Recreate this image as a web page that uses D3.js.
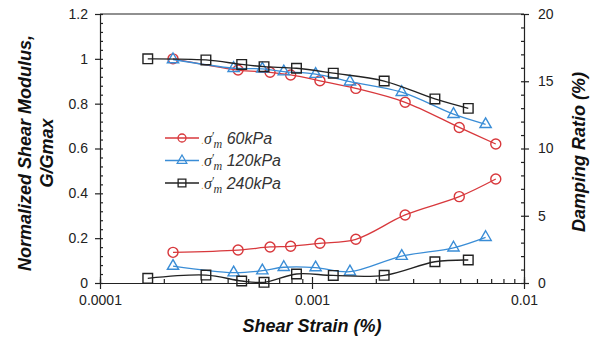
<!DOCTYPE html>
<html>
<head>
<meta charset="utf-8">
<script src="https://cdn.jsdelivr.net/npm/d3@7"></script>
<style>
  body { margin: 0; background: #fff; }
  text { font-family: "Liberation Sans", Arial, sans-serif; }
</style>
</head>
<body>
<script>
// data (strain in %)
var strain60 = [2.21e-4, 4.48e-4, 6.34e-4, 7.93e-4, 1.09e-3, 1.61e-3, 2.75e-3, 4.95e-3, 7.36e-3];
var g60 = [1.0, 0.95, 0.94, 0.928, 0.902, 0.868, 0.806, 0.694, 0.62];
var d60 = [2.28, 2.45, 2.68, 2.73, 2.95, 3.25, 5.06, 6.42, 7.73];

var strain120 = [2.21e-4, 4.27e-4, 5.83e-4, 7.36e-4, 1.04e-3, 1.51e-3, 2.65e-3, 4.65e-3, 6.59e-3];
var g120 = [0.997, 0.958, 0.955, 0.943, 0.932, 0.898, 0.851, 0.753, 0.708];
var d120 = [1.26, 0.77, 0.92, 1.17, 1.15, 0.84, 2.0, 2.62, 3.4];

var strain240 = [1.68e-4, 3.16e-4, 4.66e-4, 5.94e-4, 8.45e-4, 1.26e-3, 2.19e-3, 3.80e-3, 5.46e-3];
var g240 = [1.0, 0.995, 0.975, 0.965, 0.958, 0.936, 0.901, 0.821, 0.779];
var d240 = [0.35, 0.59, 0.15, 0.05, 0.67, 0.56, 0.57, 1.58, 1.71];

var seriesNames = ["60kPa", "120kPa", "240kPa"];
var xTicks = [1e-4, 1e-3, 1e-2];
var xTickLabels = ["0.0001", "0.001", "0.01"];
var gTicks = [0, 0.2, 0.4, 0.6, 0.8, 1, 1.2];
var dTicks = [0, 5, 10, 15, 20];

var width = 597, height = 342;
// plot box (note: "top" is reserved on window, so prefix names)
var plotL = 100, plotR = 524, plotT = 14, plotB = 283;

var svg = d3.select("body").append("svg")
    .attr("width", width)
    .attr("height", height);

var x = d3.scaleLog().domain([1e-4, 1e-2]).range([plotL, plotR]);
var yG = d3.scaleLinear().domain([0, 1.2]).range([plotB, plotT]);
var yD = d3.scaleLinear().domain([0, 20]).range([plotB, plotT]);

var axisColor = "#222", labelColor = "#222";

// minor ticks
var xMinor = [];
[1e-4, 1e-3].forEach(function(dec) {
  for (var k = 2; k <= 9; k++) xMinor.push(dec * k);
});
var gMinor = d3.range(0, 1.2001, 0.04);
var dMinor = d3.range(0, 20.001, 1);

function styleAxis(g) {
  g.selectAll("path, line").attr("stroke", axisColor).attr("stroke-width", 1.2);
  g.selectAll("text").attr("fill", labelColor).style("font-size", "14px")
    .style("font-family", "'Liberation Sans', Arial, sans-serif");
}

// left axis
svg.append("g").attr("transform", "translate(" + plotL + ",0)")
  .call(d3.axisLeft(yG).tickValues(gMinor).tickSize(-3).tickFormat(""))
  .call(styleAxis);
svg.append("g").attr("transform", "translate(" + plotL + ",0)")
  .call(d3.axisLeft(yG).tickValues(gTicks).tickSize(5).tickPadding(7).tickFormat(d3.format("")))
  .call(styleAxis)
  .call(function(g) { g.select(".domain").remove(); });

// right axis
svg.append("g").attr("transform", "translate(" + plotR + ",0)")
  .call(d3.axisRight(yD).tickValues(dMinor).tickSize(-3).tickFormat(""))
  .call(styleAxis);
svg.append("g").attr("transform", "translate(" + plotR + ",0)")
  .call(d3.axisRight(yD).tickValues(dTicks).tickSize(5).tickPadding(9).tickFormat(d3.format("")))
  .call(styleAxis)
  .call(function(g) { g.select(".domain").remove(); });

// bottom axis
svg.append("g").attr("transform", "translate(0," + plotB + ")")
  .call(d3.axisBottom(x).tickValues(xMinor).tickSize(-4).tickFormat(""))
  .call(styleAxis);
svg.append("g").attr("transform", "translate(0," + plotB + ")")
  .call(d3.axisBottom(x).tickValues(xTicks).tickSize(-6).tickFormat(""))
  .call(styleAxis)
  .call(function(g) { g.select(".domain").remove(); });
svg.append("g").attr("transform", "translate(0," + plotB + ")")
  .call(d3.axisBottom(x).tickValues(xTicks).tickSize(6).tickPadding(6)
    .tickFormat(function(d, i) { return xTickLabels[i]; }))
  .call(styleAxis)
  .call(function(g) { g.select(".domain").remove(); });

// top border
svg.append("line")
  .attr("x1", plotL).attr("x2", plotR).attr("y1", plotT).attr("y2", plotT)
  .attr("stroke", axisColor).attr("stroke-width", 1.2);

// series
var series = [
  { name: seriesNames[0], strain: strain60, g: g60, d: d60, color: "#d8383c", shape: "circle" },
  { name: seriesNames[1], strain: strain120, g: g120, d: d120, color: "#3a8dd6", shape: "triangle" },
  { name: seriesNames[2], strain: strain240, g: g240, d: d240, color: "#222222", shape: "square" }
];

var symbolFor = {
  circle: d3.symbol().type(d3.symbolCircle).size(Math.PI * 25),
  triangle: d3.symbol().type(d3.symbolTriangle).size(55),
  square: d3.symbol().type(d3.symbolSquare).size(92)
};

function drawCurve(s, vals, yScale) {
  var pts = s.strain.map(function(v, i) { return [x(v), yScale(vals[i])]; });
  var line = d3.line().curve(d3.curveCatmullRom.alpha(0.5));
  svg.append("path")
    .attr("d", line(pts))
    .attr("fill", "none")
    .attr("stroke", s.color)
    .attr("stroke-width", 1.3);
  svg.append("g").selectAll("path")
    .data(pts)
    .enter().append("path")
    .attr("transform", function(p) { return "translate(" + p[0] + "," + p[1] + ")"; })
    .attr("d", symbolFor[s.shape]())
    .attr("fill", "none")
    .attr("stroke", s.color)
    .attr("stroke-width", 1.4);
}

series.forEach(function(s) {
  drawCurve(s, s.g, yG);
  drawCurve(s, s.d, yD);
});

// legend
var legend = svg.append("g");
series.forEach(function(s, i) {
  var ly = 138 + i * 22.5;
  legend.append("line")
    .attr("x1", 165).attr("x2", 199).attr("y1", ly).attr("y2", ly)
    .attr("stroke", s.color).attr("stroke-width", 1.3);
  legend.append("path")
    .attr("transform", "translate(182," + ly + ")")
    .attr("d", s.shape === "circle" ? d3.symbol().type(d3.symbolCircle).size(50)()
      : s.shape === "triangle" ? d3.symbol().type(d3.symbolTriangle).size(40)()
      : d3.symbol().type(d3.symbolSquare).size(60)())
    .attr("fill", "none").attr("stroke", s.color).attr("stroke-width", 1.3);
  var t = legend.append("text")
    .attr("x", 201).attr("y", ly + 5.5)
    .attr("fill", "#333")
    .style("font-size", "16px");
  t.append("tspan").text(".").attr("fill", "#f0a030").style("font-size", "11px");
  t.append("tspan").text("\u03c3").style("font-family", "'Liberation Serif', serif")
    .style("font-style", "italic").style("font-size", "16px");
  t.append("tspan").text("\u2032").attr("dy", -4).style("font-family", "'Liberation Serif', serif")
    .style("font-size", "12px");
  t.append("tspan").text("m").attr("dx", -1).attr("dy", 8).style("font-family", "'Liberation Serif', serif")
    .style("font-style", "italic").style("font-size", "12px");
  t.append("tspan").text(" " + s.name).attr("dy", -4).style("font-style", "italic");
});

// axis titles
svg.append("text")
  .attr("x", 312).attr("y", 332)
  .attr("text-anchor", "middle")
  .attr("fill", "#111")
  .style("font-size", "18px").style("font-weight", "bold").style("font-style", "italic")
  .text("Shear Strain (%)");

var yTitle = svg.append("text")
  .attr("transform", "translate(0,153) rotate(-90)")
  .attr("text-anchor", "middle")
  .attr("fill", "#111")
  .style("font-size", "18px").style("font-weight", "bold").style("font-style", "italic");
yTitle.append("tspan").attr("x", 0).attr("y", 31).text("Normalized Shear Modulus,");
yTitle.append("tspan").attr("x", 0).attr("y", 53).text("G/Gmax");

svg.append("text")
  .attr("transform", "translate(585,152) rotate(-90)")
  .attr("text-anchor", "middle")
  .attr("fill", "#111")
  .style("font-size", "18px").style("font-weight", "bold").style("font-style", "italic")
  .text("Damping Ratio (%)");
</script>
</body>
</html>
